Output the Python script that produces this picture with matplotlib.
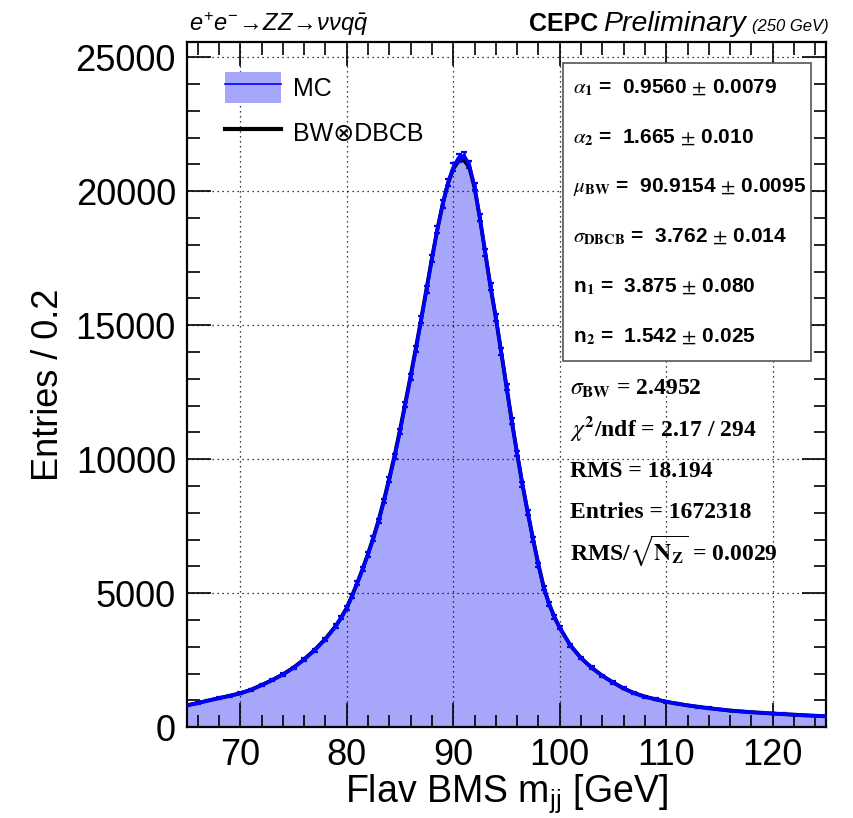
import numpy as np
import matplotlib
matplotlib.use("Agg")
import matplotlib.pyplot as plt
from matplotlib.patches import Patch, Rectangle
from matplotlib.lines import Line2D
from matplotlib.legend_handler import HandlerTuple
from matplotlib.ticker import MultipleLocator

plt.rcParams["font.family"] = ["Liberation Sans", "DejaVu Sans"]
plt.rcParams["mathtext.fontset"] = "stix"
plt.rcParams["mathtext.rm"] = "Liberation Sans"
plt.rcParams["mathtext.it"] = "Liberation Sans:italic"
plt.rcParams["mathtext.bf"] = "Liberation Sans:bold"

# ---------------- DATA ----------------
mass = [65, 66, 67, 68, 69, 70, 71, 72, 73, 74, 75, 76, 77, 78, 79,
        79.5, 80, 80.5, 81, 81.5, 82, 82.5, 83, 83.5, 84, 84.5, 85, 85.5,
        86, 86.5, 87, 87.5, 88, 88.5, 89, 89.5, 90, 90.5, 91, 91.5, 92,
        92.5, 93, 93.5, 94, 94.5, 95, 95.5, 96, 96.5, 97, 97.5, 98, 98.5,
        99, 99.5, 100, 101, 102, 103, 104, 105, 106, 107, 108, 109, 110,
        111, 112, 113, 114, 115, 116, 117, 118, 119, 120, 121, 122, 123,
        124, 125]

mc_counts = [820, 905, 1000, 1090, 1175, 1265, 1400, 1575, 1760, 1965, 2215,
             2525, 2875, 3280, 3780,
             4090, 4440, 4890, 5380, 5890, 6440, 7040, 7690, 8440, 9240,
             10100, 11040, 12040, 13060, 14110, 15210, 16340, 17480, 18560,
             19520, 20330, 20900, 21250, 21330, 21000, 20170, 19010, 17720,
             16440, 15290, 14020, 12710, 11420, 10210, 9060, 8010, 7010, 6060,
             5210, 4600, 4110, 3710, 3050, 2580, 2220, 1920, 1670, 1445, 1270,
             1140, 1040, 950, 880, 815, 760, 710, 665, 620, 590, 560, 535,
             510, 490, 465, 445, 425, 410]

fit_vals = [815, 900, 995, 1085, 1170, 1265, 1395, 1570, 1760, 1970, 2225,
            2535, 2890, 3300, 3800,
            4110, 4460, 4910, 5400, 5920, 6480, 7080, 7740, 8490, 9300,
            10160, 11100, 12100, 13120, 14170, 15260, 16380, 17500, 18560,
            19500, 20280, 20830, 21130, 21160, 20900, 20130, 18990, 17710,
            16430, 15270, 14000, 12700, 11410, 10200, 9050, 8000, 7000, 6060,
            5220, 4600, 4110, 3710, 3050, 2580, 2220, 1920, 1670, 1445, 1270,
            1140, 1040, 950, 880, 815, 760, 710, 665, 620, 590, 560, 535,
            510, 490, 465, 445, 425, 410]

fit_pars = [r"$\alpha_{\mathbf{1}}$ =  0.9560 $\pm$ 0.0079",
            r"$\alpha_{\mathbf{2}}$ =  1.665 $\pm$ 0.010",
            r"$\mu_{\mathbf{BW}}$ =  90.9154 $\pm$ 0.0095",
            r"$\sigma_{\mathbf{DBCB}}$ =  3.762 $\pm$ 0.014",
            r"n$_{\mathbf{1}}$ =  3.875 $\pm$ 0.080",
            r"n$_{\mathbf{2}}$ =  1.542 $\pm$ 0.025"]

stat_lines = [r"$\sigma_{\mathbf{BW}}$ = 2.4952",
              r"$\chi^{\mathbf{2}}$/ndf = 2.17 / 294",
              "RMS = 18.194",
              "Entries = 1672318",
              r"RMS/$\sqrt{\mathbf{N_{Z}}}$ = 0.0029"]

FILL = "#A6A6FA"
BLUE = "#0000FF"

# ---------------- PLOT ----------------
fig = plt.figure(figsize=(8.54, 8.18), dpi=100)
ax = fig.add_axes([0.219, 0.111, 0.7482, 0.8374])

ax.fill_between(mass, 0, mc_counts, color=FILL, lw=0, zorder=1)
ax.plot(mass, fit_vals, color="black", lw=2.8, zorder=3)
ax.plot(mass, mc_counts, color=BLUE, lw=2.5, zorder=4)
ax.errorbar(mass, mc_counts, yerr=np.sqrt(mc_counts), fmt="none",
            ecolor=BLUE, elinewidth=1.8, capsize=2.2, capthick=1.6, zorder=4)

ax.set_xlim(65, 125)
ax.set_ylim(0, 25560)
ax.xaxis.set_major_locator(MultipleLocator(10))
ax.xaxis.set_minor_locator(MultipleLocator(2))
ax.yaxis.set_major_locator(MultipleLocator(5000))
ax.yaxis.set_minor_locator(MultipleLocator(1000))
ax.tick_params(which="both", direction="in", top=True, right=True,
               width=1.2, labelsize=26, pad=8)
ax.tick_params(which="major", length=17)
ax.tick_params(which="minor", length=9)
for s in ax.spines.values():
    s.set_linewidth(1.6)
ax.set_axisbelow(False)
ax.grid(True, which="major", color="black", lw=0.9, ls=(0, (1, 3)))

ax.set_ylabel("Entries / 0.2", fontsize=26)
ax.yaxis.set_label_coords(-0.19, 0.5)
ax.set_xlabel(r"Flav BMS m$_{\mathrm{jj}}$ [GeV]", fontsize=27,
              math_fontfamily="custom")
ax.xaxis.set_label_coords(0.5, -0.066)

# legend
h_mc = (Patch(facecolor=FILL, edgecolor="none"), Line2D([], [], color=BLUE, lw=1.2))
h_fit = Line2D([], [], color="black", lw=3)
ax.legend([h_mc, h_fit], ["MC", "BW⊗DBCB"], handler_map={tuple: HandlerTuple(ndivide=1, pad=0)},
          loc="upper left", bbox_to_anchor=(0.059, 0.956), frameon=False,
          fontsize=18, handlelength=2.24, handleheight=1.52, labelspacing=0.55,
          handletextpad=0.5, borderpad=0, borderaxespad=0)

# fit parameter box
ax.add_patch(Rectangle((0.588, 0.534), 0.388, 0.435, transform=ax.transAxes,
                       facecolor="white", edgecolor="#555555", lw=1.2, zorder=5))
par_y = [0.9255, 0.8526, 0.781, 0.708, 0.635, 0.562]
for txt, yy in zip(fit_pars, par_y):
    ax.text(0.604, yy, txt, transform=ax.transAxes, fontsize=15, fontweight="bold",
            va="baseline", ha="left", zorder=6)

stat_y = [0.4847, 0.4248, 0.365, 0.305, 0.245]
for txt, yy in zip(stat_lines, stat_y):
    ax.text(0.599, yy, txt, transform=ax.transAxes, fontsize=17, fontweight="bold",
            family="Liberation Serif", va="baseline", ha="left", zorder=6)

# header
fig.text(0.221, 0.962, r"$e^{+}e^{-}\!\rightarrow\! ZZ\!\rightarrow\!\nu\nu q\bar{q}$",
         fontsize=17, math_fontfamily="custom", va="baseline", ha="left")
fig.canvas.draw()
r = fig.canvas.get_renderer()
t3 = fig.text(0.970, 0.962, "(250 GeV)", fontsize=12, style="italic",
              va="baseline", ha="right")
x0 = t3.get_window_extent(r).x0 - 6
t2 = fig.text(x0 / fig.bbox.width, 0.962, "Preliminary", fontsize=20.5, style="italic",
              va="baseline", ha="right")
x0 = t2.get_window_extent(r).x0 - 5
fig.text(x0 / fig.bbox.width, 0.962, "CEPC", fontsize=18, fontweight="bold",
         va="baseline", ha="right")

fig.savefig("out.png", dpi=100)
